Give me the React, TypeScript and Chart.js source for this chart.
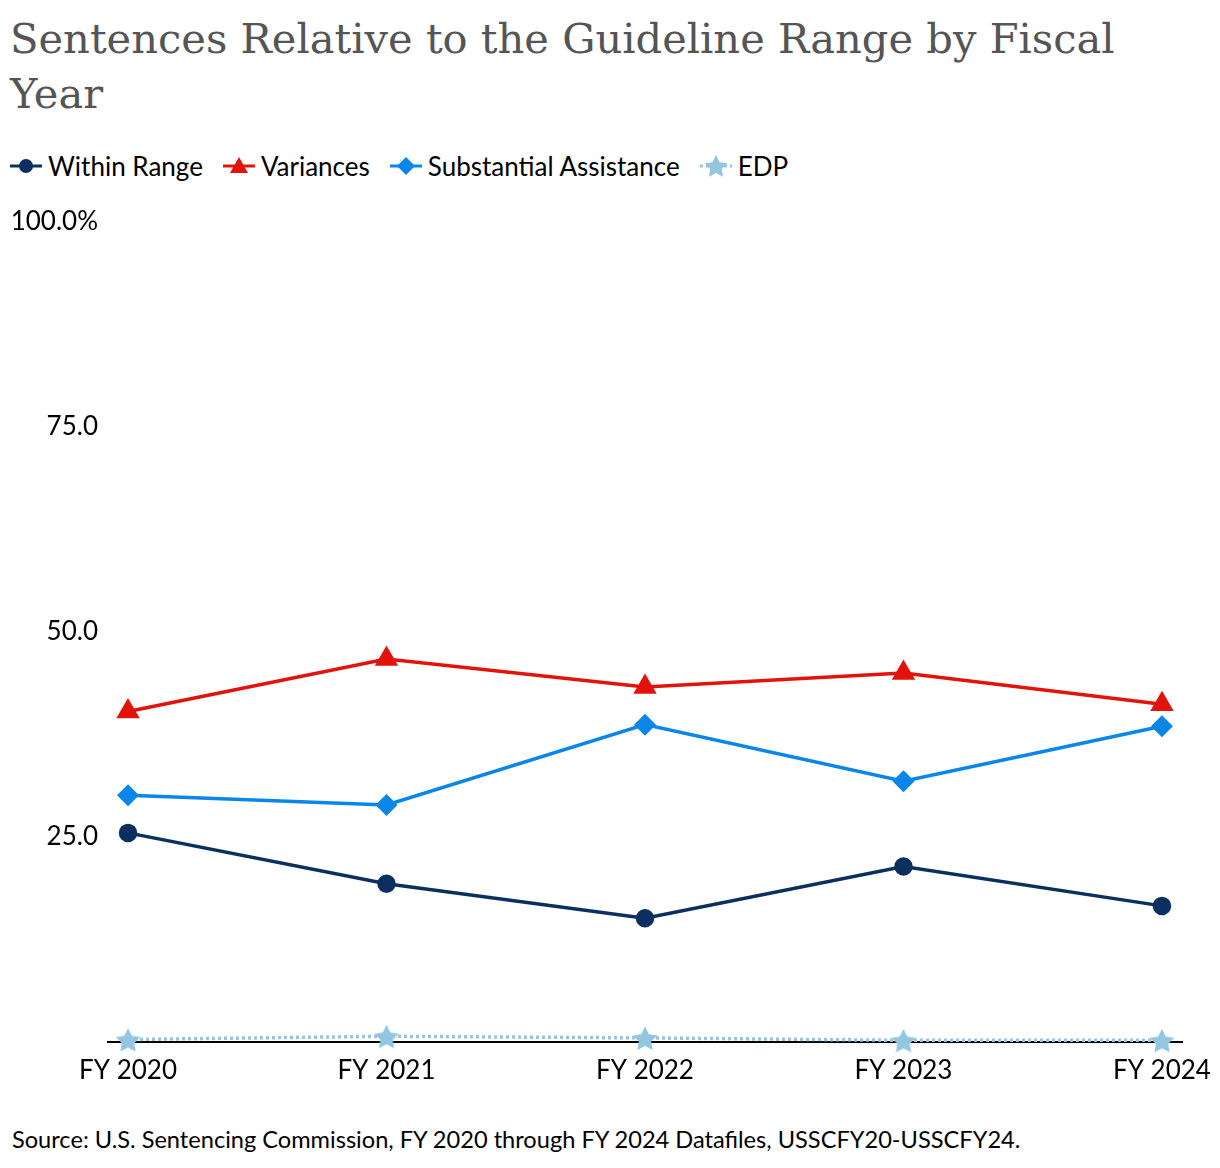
import React, { useEffect, useRef } from "react";
import { Chart, registerables } from "chart.js";
Chart.register(...registerables);

const categories = ["FY 2020", "FY 2021", "FY 2022", "FY 2023", "FY 2024"];
const withinRange = [25.5, 19.3, 15.1, 21.4, 16.6];
const variances = [40.3, 46.7, 43.3, 45.0, 41.2];
const substantialAssistance = [30.1, 28.9, 38.7, 31.8, 38.5];
const edp = [0.3, 0.7, 0.5, 0.2, 0.2];
const yTickValues = [0, 25, 50, 75, 100];

const titleText = "Sentences Relative to the Guideline Range by Fiscal Year";
const sourceText = "Source: U.S. Sentencing Commission, FY 2020 through FY 2024 Datafiles, USSCFY20-USSCFY24.";

const NAVY = "#0b2f5f";
const RED = "#e2130b";
const BLUE = "#0a86e8";
const LIGHT = "#93c6e1";

function starPoints(cx: number, cy: number, R: number, r: number) {
  const pts: [number, number][] = [];
  for (let i = 0; i < 10; i++) {
    const ang = -Math.PI / 2 + (i * Math.PI) / 5;
    const rad = i % 2 === 0 ? R : r;
    pts.push([cx + rad * Math.cos(ang), cy + rad * Math.sin(ang)]);
  }
  return pts;
}

function makeStar(color: string, R: number) {
  const c = document.createElement("canvas");
  const size = Math.ceil(R * 2 + 4);
  c.width = size;
  c.height = size;
  const ctx = c.getContext("2d")!;
  ctx.fillStyle = color;
  ctx.beginPath();
  starPoints(size / 2, size / 2 + 1.5, R, R * 0.5).forEach(([x, y], i) =>
    i === 0 ? ctx.moveTo(x, y) : ctx.lineTo(x, y)
  );
  ctx.closePath();
  ctx.fill();
  return c;
}

const legendItems = [
  { label: "Within Range", color: NAVY, marker: "circle", dash: false },
  { label: "Variances", color: RED, marker: "triangle", dash: false },
  { label: "Substantial Assistance", color: BLUE, marker: "diamond", dash: false },
  { label: "EDP", color: LIGHT, marker: "star", dash: true },
];

function LegendIcon({ color, marker, dash }: { color: string; marker: string; dash: boolean }) {
  let m: React.ReactNode = null;
  if (marker === "circle") m = <circle cx={16} cy={12} r={7} fill={color} />;
  if (marker === "triangle") m = <polygon points="16,3 25,19 7,19" fill={color} />;
  if (marker === "diamond") m = <polygon points="16,3 25,12 16,21 7,12" fill={color} />;
  if (marker === "star")
    m = <polygon points={starPoints(16, 13, 12, 6).map((p) => p.join(",")).join(" ")} fill={color} />;
  return (
    <svg width={32} height={26} style={{ marginRight: 6, display: "block" }}>
      <line x1={0} y1={13} x2={32} y2={13} stroke={color} strokeWidth={3} strokeDasharray={dash ? "3 3" : undefined} />
      <g transform="translate(0,1)">{m}</g>
    </svg>
  );
}

export default function App() {
  const ref = useRef<HTMLCanvasElement | null>(null);
  useEffect(() => {
    document.body.style.margin = "0";
    const star = makeStar(LIGHT, 13);
    const pts = (arr: number[]) => arr.map((v, i) => ({ x: i, y: v }));
    const chart = new Chart(ref.current!, {
      type: "line",
      data: {
        datasets: [
          { label: "Within Range", data: pts(withinRange), borderColor: NAVY, backgroundColor: NAVY, borderWidth: 3.5, pointStyle: "circle", pointRadius: 7.5, pointHoverRadius: 7.5 },
          { label: "Variances", data: pts(variances), borderColor: RED, backgroundColor: RED, borderWidth: 3.5, pointStyle: "triangle", pointRadius: 10, pointHoverRadius: 10 },
          { label: "Substantial Assistance", data: pts(substantialAssistance), borderColor: BLUE, backgroundColor: BLUE, borderWidth: 3.5, pointStyle: "rectRot", pointRadius: 8.5, pointHoverRadius: 8.5 },
          { label: "EDP", data: pts(edp), borderColor: LIGHT, backgroundColor: LIGHT, borderWidth: 3.5, borderDash: [3, 3], pointStyle: star as any, pointRadius: 14, pointHoverRadius: 14, clip: false },
        ] as any,
      },
      options: {
        animation: false,
        responsive: false,
        devicePixelRatio: 1,
        layout: { padding: { top: 32, right: 38, left: 0, bottom: 0 } },
        plugins: { legend: { display: false }, title: { display: false }, tooltip: { enabled: false } },
        scales: {
          x: {
            type: "linear",
            min: -0.0775,
            max: 4.0775,
            afterBuildTicks: (axis: any) => {
              axis.ticks = categories.map((_, i) => ({ value: i }));
            },
            afterFit: (axis: any) => {
              axis.height = 68;
            },
            grid: { display: false },
            border: { display: true, color: "#000", width: 2 },
            ticks: {
              padding: 5,
              color: "#000",
              font: { family: "Lato", size: 26 },
              maxRotation: 0,
              autoSkip: false,
              callback: (v: any) => categories[Math.round(Number(v))] ?? "",
            },
          },
          y: {
            min: 0,
            max: 100,
            afterBuildTicks: (axis: any) => {
              axis.ticks = yTickValues.map((v) => ({ value: v }));
            },
            afterFit: (axis: any) => {
              axis.width = 108;
            },
            grid: { display: false },
            border: { display: false },
            ticks: {
              padding: 2,
              color: "#000",
              font: { family: "Lato", size: 26 },
              callback: (v: any) => {
                const n = Number(v);
                if (n === 0) return "";
                if (n === 100) return "100.0%";
                return n.toFixed(1);
              },
            },
          },
        },
      } as any,
    });
    return () => chart.destroy();
  }, []);

  return (
    <div style={{ position: "relative", width: 1220, height: 1168, overflow: "hidden", background: "#fff" }}>
      <div
        style={{
          position: "absolute",
          left: 10,
          top: 11,
          width: 1130,
          fontFamily: "'DejaVu Serif', serif",
          fontSize: 41.6,
          lineHeight: "55px",
          color: "#555555",
        }}
      >
        {titleText}
      </div>
      <div
        style={{
          position: "absolute",
          left: 10,
          top: 150,
          display: "flex",
          alignItems: "center",
          fontFamily: "Lato, sans-serif",
          fontSize: 26,
          color: "#000",
        }}
      >
        {legendItems.map((it) => (
          <div key={it.label} style={{ display: "flex", alignItems: "center", marginRight: 20 }}>
            <LegendIcon color={it.color} marker={it.marker} dash={it.dash} />
            <span>{it.label}</span>
          </div>
        ))}
      </div>
      <canvas ref={ref} width={1220} height={920} style={{ position: "absolute", left: 0, top: 190, width: 1220, height: 920 }} />
      <div
        style={{
          position: "absolute",
          left: 12,
          top: 1125,
          fontFamily: "Lato, sans-serif",
          fontSize: 23.6,
          color: "#000",
          whiteSpace: "nowrap",
        }}
      >
        {sourceText}
      </div>
    </div>
  );
}
